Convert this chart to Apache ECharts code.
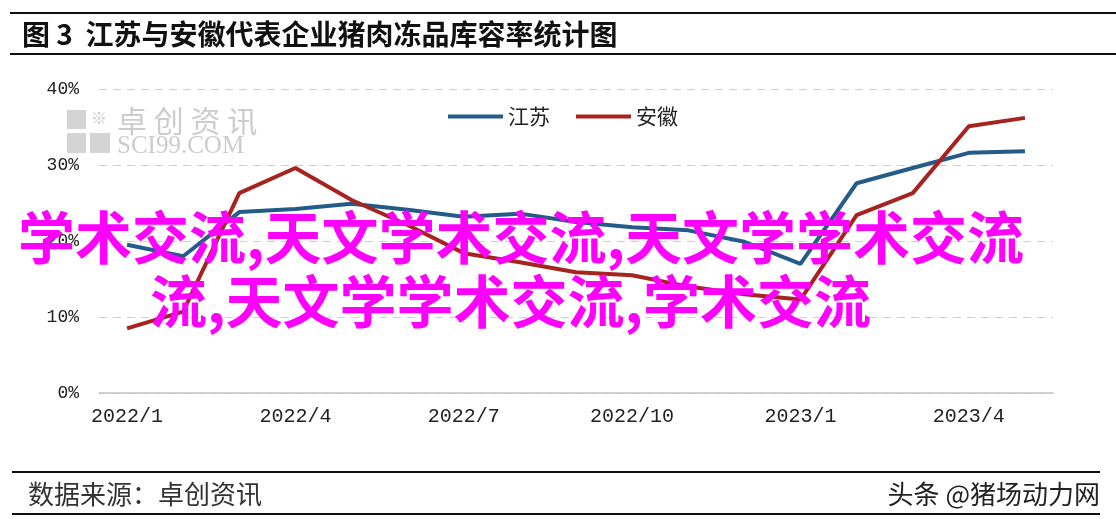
<!DOCTYPE html>
<html>
<head>
<meta charset="utf-8">
<script src="https://cdn.jsdelivr.net/npm/echarts@6/dist/echarts.min.js"></script>
<style>
html,body{margin:0;padding:0;background:#fff;}
#c{width:1116px;height:528px;}
</style>
</head>
<body>
<div id="c"></div>
<script>
const months = ['2022/1','2022/2','2022/3','2022/4','2022/5','2022/6','2022/7','2022/8','2022/9','2022/10','2022/11','2022/12','2023/1','2023/2','2023/3','2023/4','2023/5'];
const jiangsu = [19.5, 18.0, 23.8, 24.2, 24.9, 24.1, 23.2, 23.6, 22.5, 21.8, 21.4, 19.9, 17.0, 27.6, 29.6, 31.6, 31.8];
const anhui = [8.5, 10.7, 26.3, 29.6, 25.4, 22.1, 18.4, 17.2, 15.9, 15.5, 14.0, 13.0, 12.3, 23.4, 26.3, 35.1, 36.2];
const yTicks = [0, 10, 20, 30, 40];
const titleText = '图 3  江苏与安徽代表企业猪肉冻品库容率统计图';
const sourceText = '数据来源：卓创资讯';
const creditText = '头条 @猪场动力网';
const overlay1 = '学术交流,天文学术交流,天文学学术交流';
const overlay2 = '流,天文学学术交流,学术交流';

const chart = echarts.init(document.getElementById('c'), null, {renderer: 'canvas'});
const lineStyleBlack = {stroke: '#111', lineWidth: 2};
chart.setOption({
  backgroundColor: '#ffffff',
  animation: false,
  grid: {left: 99, right: 63, top: 89, bottom: 135},
  legend: {
    left: 443, top: 101,
    icon: 'rect', itemWidth: 55, itemHeight: 4, itemGap: 26,
    textStyle: {fontSize: 21, color: '#222', fontFamily: 'Noto Sans CJK SC'},
    data: ['江苏', '安徽']
  },
  xAxis: {
    type: 'category', data: months, boundaryGap: true,
    axisLine: {lineStyle: {color: '#c4c4c4', width: 1.5}},
    axisTick: {interval: 2, length: 6, lineStyle: {color: '#c4c4c4'}},
    axisLabel: {interval: 2, fontSize: 20, color: '#222', fontFamily: 'Liberation Mono', margin: 14}
  },
  yAxis: {
    type: 'value', min: yTicks[0], max: yTicks[yTicks.length - 1], interval: 10,
    axisLine: {show: false}, axisTick: {show: false},
    axisLabel: {formatter: '{value}%', fontSize: 18, color: '#222', fontFamily: 'Liberation Mono', margin: 20},
    splitLine: {lineStyle: {type: [8, 6], color: '#d0d0d0', width: 1}}
  },
  series: [
    {name: '江苏', type: 'line', data: jiangsu, symbol: 'none', z: 3,
     lineStyle: {color: '#235c88', width: 4}, itemStyle: {color: '#235c88'}},
    {name: '安徽', type: 'line', data: anhui, symbol: 'none', z: 4,
     lineStyle: {color: '#a6231f', width: 4}, itemStyle: {color: '#a6231f'}}
  ],
  graphic: [
    {type: 'line', shape: {x1: 10, y1: 13, x2: 1116, y2: 13}, style: lineStyleBlack},
    {type: 'line', shape: {x1: 10, y1: 54, x2: 1116, y2: 54}, style: lineStyleBlack},
    {type: 'text', left: 22, top: 20, style: {text: titleText, font: 'bold 28px "Noto Sans CJK SC"', fill: '#111'}},
    {type: 'line', shape: {x1: 12, y1: 472, x2: 1100, y2: 472}, style: lineStyleBlack},
    {type: 'line', shape: {x1: 12, y1: 514, x2: 1100, y2: 514}, style: lineStyleBlack},
    {type: 'text', left: 28, top: 481, style: {text: sourceText, font: '26px "Noto Sans CJK SC"', fill: '#333'}},
    {type: 'text', right: 16, top: 481, style: {text: creditText, font: '26px "Noto Sans CJK SC"', fill: '#222'}},
    // watermark
    {type: 'group', left: 67, top: 110, z: 1, children: [
      {type: 'rect', shape: {x: 0, y: 0, width: 19, height: 19}, style: {fill: '#d4d4d4'}},
      {type: 'rect', shape: {x: 0, y: 23, width: 19, height: 20}, style: {fill: '#d4d4d4'}},
      {type: 'rect', shape: {x: 23, y: 23, width: 20, height: 20}, style: {fill: '#d4d4d4'}},
      {type: 'text', x: 24, y: 0, style: {text: '※', font: '16px "Noto Sans CJK SC"', fill: '#c8c8c8'}}
    ]},
    {type: 'text', left: 117, top: 106, z: 1, style: {text: '卓 创 资 讯', font: '30px "Noto Sans CJK SC"', fill: '#cccccc'}},
    {type: 'text', left: 117, top: 134, z: 1, style: {text: 'SCI99.COM', font: '25px "Liberation Serif"', fill: '#cccccc'}},
    // overlay
    {type: 'text', z: 100, left: 18, top: 209, style: {text: overlay1, font: 'bold 57px "Noto Sans CJK SC"', fill: '#ff00ff'}},
    {type: 'text', z: 100, left: 150, top: 273, style: {text: overlay2, font: 'bold 57px "Noto Sans CJK SC"', fill: '#ff00ff'}}
  ]
});
</script>
</body>
</html>
